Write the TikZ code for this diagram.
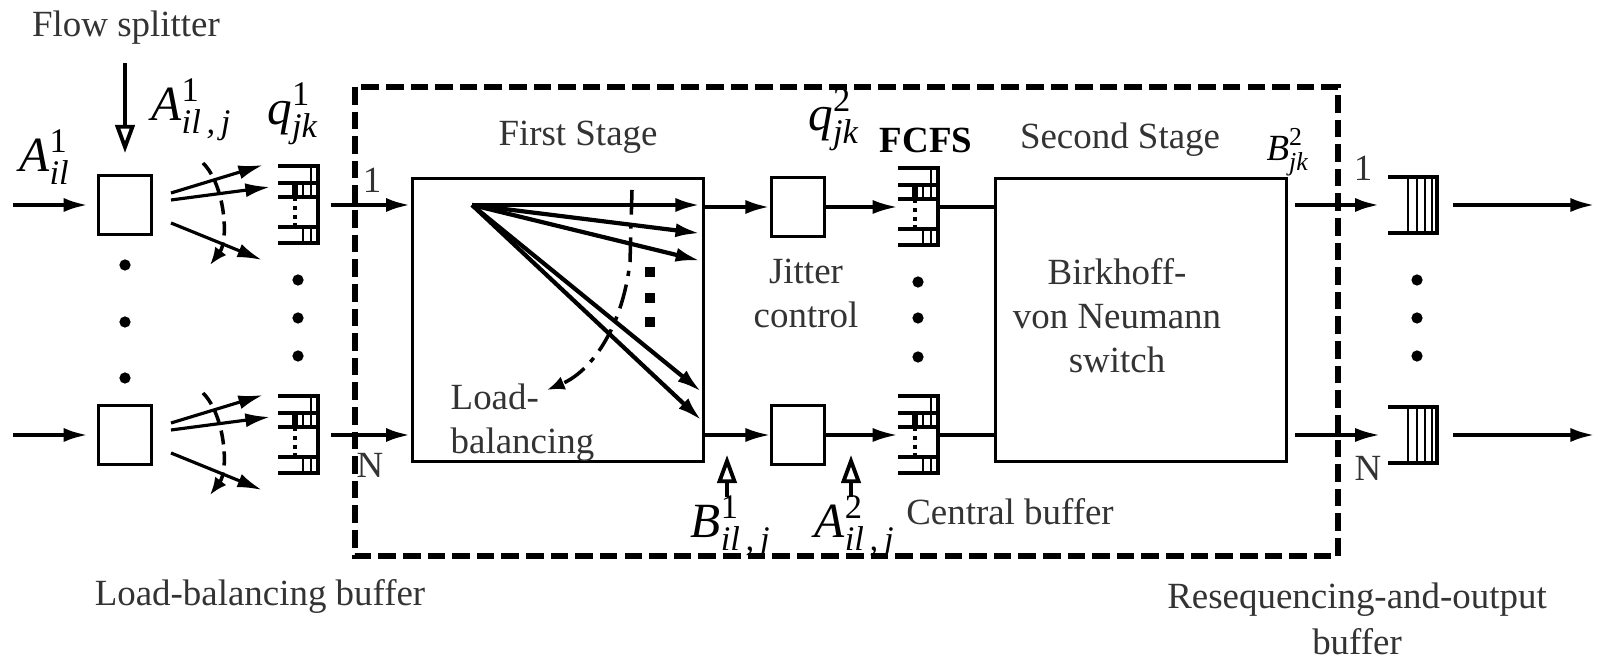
\documentclass[tikz,border=0pt]{standalone}
\usepackage{amsmath}
\usepackage{fontspec}
\setmainfont{Liberation Serif}
\usetikzlibrary{arrows.meta}

\newcommand{\mlab}[3]{$\textit{#1}^{\textup{#3}}_{\textit{#2}}$}

\tikzset{
  box/.style={draw, line width=0.8pt, minimum width=0.53cm, minimum height=0.59cm, inner sep=0pt},
  stage/.style={draw, line width=1pt, minimum width=2.91cm, minimum height=2.83cm, inner sep=0pt},
  qnode/.style={minimum width=0.4cm, minimum height=0.78cm, inner sep=0pt},
  flow/.style={-{Latex[length=7pt,width=4pt]}, line width=1.2pt},
  thinflow/.style={-{Latex[length=7pt,width=4pt]}, line width=0.9pt},
  hollow/.style={-{Triangle[open,length=8pt,width=5.5pt]}, line width=1.1pt},
  txt/.style={font=\fontsize{10.5}{12.5}\selectfont, text=black!80, inner sep=0pt},
  lab/.style={font=\fontsize{14}{17}\selectfont, inner sep=0pt},
  pics/vqueue/.style={code={
    \draw[line width=1pt] (-20,-39) -- (20,-39) -- (20,38) -- (-20,38);
    \draw[line width=1pt] (-20,-22) -- (20,-22) (-20,-8) -- (20,-8) (-20,22) -- (20,22);
    \draw[line width=0.8pt] (13,-39) -- (13,-8) (5,-22) -- (5,-8) (5,22) -- (5,38) (13,22) -- (13,38);
    \draw[line width=1.5pt] (-3,-22) -- (-3,-8);
    \draw[line width=1.2pt, dash pattern=on 1.2pt off 1.3pt] (-3,-8) -- (-3,20);
  }},
  pics/hqueue/.style={code={
    \draw[line width=1pt] (-25,-28) -- (24,-28) -- (24,28) -- (-25,28);
    \foreach \x in {-5,4,12,19} \draw[line width=0.8pt] (\x,-28) -- (\x,28);
  }}
}

\begin{document}
\begin{tikzpicture}[x=0.01cm, y=-0.01cm, >=Latex]
  \useasboundingbox (0,0) rectangle (1598,659);

  % flow splitters
  \node[txt] (fs) at (126,28) {Flow splitter};
  \coordinate (fsin) at (125,63);
  \node[box] (spl1) at (125,205) {};
  \node[box] (splN) at (125,435) {};
  \coordinate (in1) at (13,205);
  \coordinate (inN) at (13,435);
  \draw[flow, shorten >=2.5pt] (in1) -- (spl1);
  \draw[flow, shorten >=2.5pt] (inN) -- (splN);
  \draw[hollow, shorten >=6pt] (fsin) -- (spl1.north);
  \node[lab] (ail) at (45,157) {\mlab{A}{il}{1}};
  \node[lab] (ailj) at (192,110) {\mlab{A}{il\,,\,j}{1}};
  \foreach \s in {spl1,splN} {
    \draw[thinflow] ([shift={(46,-12)}]\s.center) -- ([shift={(138,-40)}]\s.center);
    \draw[thinflow] ([shift={(46,-5)}]\s.center) -- ([shift={(145,-18)}]\s.center);
    \draw[thinflow] ([shift={(46,18)}]\s.center) -- ([shift={(137,55)}]\s.center);
    \draw[line width=1pt, dash pattern=on 4pt off 2pt, -{Latex[length=5pt,width=4pt]}]
      ([shift={(78,-42)}]\s.center) .. controls ([shift={(100,-20)}]\s.center)
      and ([shift={(104,35)}]\s.center) .. ([shift={(85,60)}]\s.center);
  }
  \foreach \y in {265,322,378} \fill (125,\y) circle (1.6pt);

  % load-balancing buffer
  \node[qnode] (q1) at (298,205) {};
  \node[qnode] (qN) at (298,435) {};
  \pic at (q1) {vqueue};
  \pic at (qN) {vqueue};
  \foreach \y in {280,318,356} \fill (298,\y) circle (1.6pt);
  \node[lab] (q1l) at (293,114) {\mlab{q}{jk}{1}};

  % central part
  \draw[line width=1.5pt, dash pattern=on 5pt off 2pt] (355,87) rectangle (1338,556);

  \node[stage] (st1) at (558,320) {};
  \node[txt] at (578,137) {First Stage};
  \draw[flow, shorten <=3.4pt] (q1.east) -- (q1.east -| st1.west);
  \draw[flow, shorten <=3.4pt] (qN.east) -- (qN.east -| st1.west);
  \node[txt] at (372,180) {1};
  \node[txt] at (370,465) {N};

  \coordinate (fo) at (472,205);
  \foreach \y in {205,234,262,395,424}
    \draw[flow, shorten >=1.5pt] (fo) -- (st1.east |- 0,\y);
  \foreach \y in {272,298,322} \fill (645,\y-5) rectangle ++(10,10);
  \draw[line width=1pt, dash pattern=on 7pt off 2.5pt on 1.5pt off 2.5pt, -{Latex[length=5pt,width=4pt]}]
    (632,190) -- (630,262) .. controls (622,330) and (590,372) .. (547,390);
  \node[txt, anchor=north west, align=left] (lb) at (450,383) {Load-\\balancing};

  \node[box] (j1) at (798,207) {};
  \node[box] (jN) at (798,435) {};
  \node[txt, align=center] at (806,293) {Jitter\\control};
  \node[qnode] (q21) at (918,207) {};
  \node[qnode] (q2N) at (918,435) {};
  \pic at (q21) {vqueue};
  \pic at (q2N) {vqueue};
  \foreach \y in {282,318,357} \fill (918,\y) circle (1.6pt);
  \node[lab] at (834,120) {\mlab{q}{jk}{2}};
  \node[txt, font=\fontsize{10.5}{12.5}\selectfont\bfseries, text=black] at (926,140) {FCFS};

  \node[stage] (st2) at (1141,320) {};
  \node[txt] at (1120,140) {Second Stage};
  \node[txt, align=center] at (1117,316) {Birkhoff-\\von Neumann\\switch};

  \draw[flow] (st1.east |- j1) -- (j1);
  \draw[thinflow] (st1.east |- jN) -- (jN);
  \draw[thinflow] (j1) -- (q21);
  \draw[thinflow] (jN) -- (q2N);
  \draw[line width=1.2pt] (q21) -- (q21 -| st2.west);
  \draw[line width=0.9pt] (q2N) -- (q2N -| st2.west);

  \coordinate (bt1) at (727,497);
  \coordinate (bt2) at (851,497);
  \draw[hollow, shorten >=5.7pt] (bt1) -- (bt1 |- jN);
  \draw[hollow, shorten >=5.7pt] (bt2) -- (bt2 |- jN);
  \node[lab] (b1l) at (731,527) {\mlab{B}{il\,,\,j}{1}};
  \node[lab] (a2l) at (855,527) {\mlab{A}{il\,,\,j}{2}};
  \node[txt] at (1010,512) {Central buffer};

  % resequencing-and-output buffer
  \node[qnode, minimum width=0.49cm, minimum height=0.56cm] (oq1) at (1413,205) {};
  \node[qnode, minimum width=0.49cm, minimum height=0.56cm] (oqN) at (1413,435) {};
  \pic at (oq1) {hqueue};
  \pic at (oqN) {hqueue};
  \foreach \y in {280,318,356} \fill (1417,\y) circle (1.6pt);
  \draw[flow, shorten <=2pt, shorten >=2.3pt] (st2.east |- oq1) -- (oq1);
  \draw[thinflow, shorten <=2pt, shorten >=2.3pt] (st2.east |- oqN) -- (oqN);
  \node[font=\fontsize{10.5}{12.5}\selectfont, inner sep=0pt] at (1288,152) {\mlab{B}{jk}{2}};
  \node[txt] at (1363,168) {1};
  \node[txt] at (1368,468) {N};
  \coordinate (out1) at (1595,205);
  \coordinate (outN) at (1595,435);
  \draw[flow, shorten <=4.3pt] (oq1) -- (out1);
  \draw[flow, shorten <=4.3pt] (oqN) -- (outN);

  \node[txt] at (260,596) {Load-balancing buffer};
  \node[txt, align=center, font=\fontsize{10.5}{13}\selectfont] at (1357,619) {Resequencing-and-output\\buffer};
\end{tikzpicture}
\end{document}
